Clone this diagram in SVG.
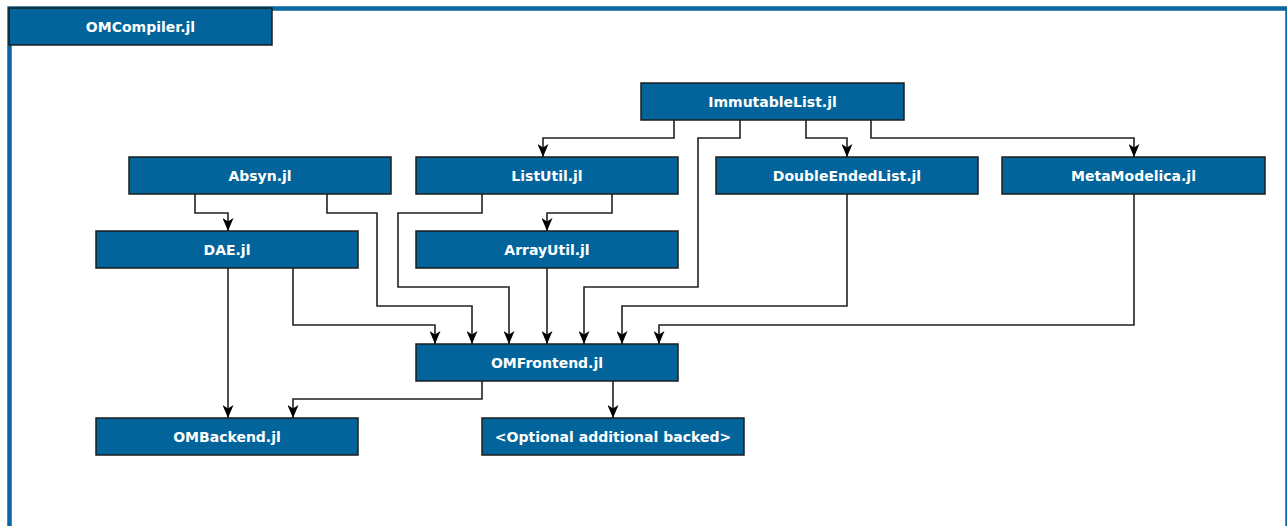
<svg xmlns="http://www.w3.org/2000/svg" width="1287" height="526" viewBox="0 0 1287 526">
<style>
.box{fill:#02649a;stroke:#1c1c1c;stroke-width:1.5}
.lbl{fill:#ffffff;font-family:"DejaVu Sans",Verdana,sans-serif;font-weight:bold;font-size:14px;text-anchor:middle}
.edge{fill:none;stroke:#222222;stroke-width:1.6;marker-end:url(#arr)}
</style>
<defs>
<marker id="arr" viewBox="0 0 13 11" refX="13" refY="5.5" markerWidth="13" markerHeight="11" markerUnits="userSpaceOnUse" orient="auto">
<path d="M0,0 L13,5.5 L0,11 L3.5,5.5 z" fill="#000"/>
</marker>
</defs>
<rect x="0" y="0" width="1287" height="526" fill="#ffffff"/>
<rect id="frame" x="9.5" y="8.5" width="1278" height="600" fill="none" stroke="#0a67a0" stroke-width="4.5"/>
<g id="title"><rect class="box" x="9" y="8" width="263" height="37"/><text class="lbl" x="140.5" y="31.5">OMCompiler.jl</text></g>
<g id="connectors">
<path class="edge" d="M674,120 V138 H543 V157"/>
<path class="edge" d="M740,120 V138 H698 V287 H584 V344"/>
<path class="edge" d="M806,120 V138 H847 V157"/>
<path class="edge" d="M871,120 V138 H1134 V157"/>
<path class="edge" d="M195,194 V213 H228 V231"/>
<path class="edge" d="M327,194 V213 H377 V306 H472 V344"/>
<path class="edge" d="M612,194 V213 H547 V231"/>
<path class="edge" d="M482,194 V213 H398 V287 H509 V344"/>
<path class="edge" d="M547,268 V344"/>
<path class="edge" d="M293,268 V325 H435 V344"/>
<path class="edge" d="M228,268 V418"/>
<path class="edge" d="M847,194 V306 H622 V344"/>
<path class="edge" d="M1134,194 V325 H659 V344"/>
<path class="edge" d="M482,381 V399 H293 V418"/>
<path class="edge" d="M613,381 V418"/>
</g>
<g id="immutablelist"><rect class="box" x="641" y="83" width="263" height="37"/><text class="lbl" x="772.5" y="106.5">ImmutableList.jl</text></g>
<g id="absyn"><rect class="box" x="129" y="157" width="262" height="37"/><text class="lbl" x="260" y="180.5">Absyn.jl</text></g>
<g id="listutil"><rect class="box" x="416" y="157" width="262" height="37"/><text class="lbl" x="547" y="180.5">ListUtil.jl</text></g>
<g id="doubleendedlist"><rect class="box" x="716" y="157" width="262" height="37"/><text class="lbl" x="847" y="180.5">DoubleEndedList.jl</text></g>
<g id="metamodelica"><rect class="box" x="1002" y="157" width="263" height="37"/><text class="lbl" x="1133.5" y="180.5">MetaModelica.jl</text></g>
<g id="dae"><rect class="box" x="96" y="231" width="262" height="37"/><text class="lbl" x="227" y="254.5">DAE.jl</text></g>
<g id="arrayutil"><rect class="box" x="416" y="231" width="262" height="37"/><text class="lbl" x="547" y="254.5">ArrayUtil.jl</text></g>
<g id="omfrontend"><rect class="box" x="416" y="344" width="262" height="37"/><text class="lbl" x="547" y="367.5">OMFrontend.jl</text></g>
<g id="ombackend"><rect class="box" x="96" y="418" width="262" height="37"/><text class="lbl" x="227" y="441.5">OMBackend.jl</text></g>
<g id="optional"><rect class="box" x="482" y="418" width="262" height="37"/><text class="lbl" x="613" y="441.5">&lt;Optional additional backed&gt;</text></g>
</svg>
